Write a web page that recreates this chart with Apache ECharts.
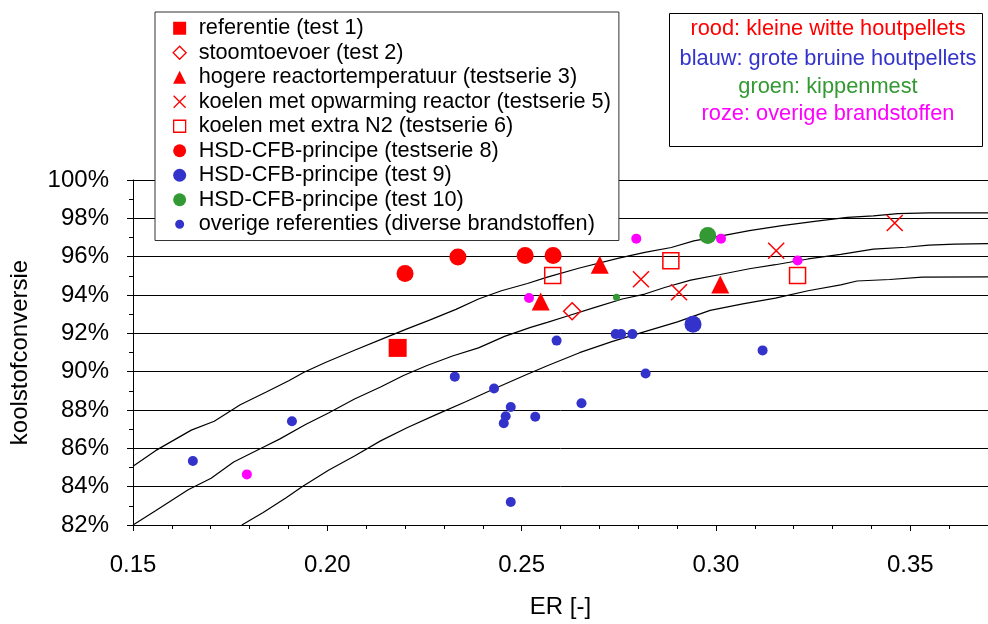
<!DOCTYPE html>
<html>
<head>
<meta charset="utf-8">
<script src="https://cdn.jsdelivr.net/npm/echarts@6/dist/echarts.min.js"></script>
<style>
html, body { margin: 0; padding: 0; background: #fff; }
#chart { width: 988px; height: 624px; }
</style>
</head>
<body>
<div id="chart"></div>
<script>
// meetpunten [ER, koolstofconversie %]
const test1 = [[0.2181, 91.24]];
const test2 = [[0.2630, 93.15]];
const testserie3 = [[0.2549, 93.66], [0.2701, 95.58], [0.3011, 94.55]];
const testserie5 = [[0.2807, 94.82], [0.2905, 94.14], [0.3155, 96.31], [0.3460, 97.76]];
const testserie6 = [[0.2580, 95.02], [0.2884, 95.79], [0.3210, 95.02]];
const testserie8 = [[0.2200, 95.12], [0.2336, 95.98], [0.2509, 96.06], [0.2581, 96.06]];
const test9 = [[0.2941, 92.47]];
const test10 = [[0.2979, 97.11]];

// overige referenties, per brandstof
const overigeBlauw = [[0.1654, 85.34], [0.1909, 87.41], [0.2328, 89.74], [0.2429, 89.12], [0.2472, 88.16],
    [0.2459, 87.67], [0.2454, 87.31], [0.2535, 87.65], [0.2654, 88.35], [0.2590, 91.62], [0.2742, 91.96],
    [0.2756, 91.96], [0.2785, 91.96], [0.2819, 89.90], [0.3120, 91.11], [0.2472, 83.20]];
const overigeRoze = [[0.1793, 84.64], [0.2519, 93.84], [0.2795, 96.94], [0.3013, 96.94], [0.3210, 95.80]];
const overigeGroen = [[0.2744, 93.88]];

// modelcurves
const curveHoog = [[0.15, 85.07], [0.1558, 85.88], [0.165, 86.95], [0.1709, 87.41], [0.1776, 88.27], [0.1843, 88.94],
    [0.1902, 89.54], [0.194, 89.97], [0.1995, 90.48], [0.207, 91.12], [0.2137, 91.67], [0.2205, 92.23], [0.2263, 92.69],
    [0.2331, 93.25], [0.2389, 93.79], [0.2448, 94.22], [0.2515, 94.6], [0.2566, 94.93], [0.2649, 95.41], [0.275, 95.92],
    [0.2817, 96.22], [0.2885, 96.48], [0.2943, 96.82], [0.3011, 97.07], [0.3086, 97.36], [0.317, 97.62], [0.3254, 97.84],
    [0.3338, 98.05], [0.3405, 98.13], [0.3468, 98.25], [0.3548, 98.28], [0.37, 98.28]];
const curveMidden = [[0.15, 82.0], [0.1558, 82.74], [0.1642, 83.84], [0.1701, 84.44], [0.1759, 85.29], [0.1835, 86.06],
    [0.1877, 86.48], [0.1944, 87.24], [0.2003, 87.84], [0.207, 88.57], [0.2137, 89.2], [0.2196, 89.8], [0.2255, 90.31],
    [0.2322, 90.82], [0.2389, 91.24], [0.2456, 91.84], [0.2523, 92.31], [0.2566, 92.57], [0.2616, 92.89], [0.2691, 93.37],
    [0.2759, 93.79], [0.2817, 94.05], [0.2868, 94.39], [0.2935, 94.78], [0.3011, 95.07], [0.3086, 95.37], [0.3153, 95.58],
    [0.3237, 95.88], [0.3321, 96.12], [0.3405, 96.39], [0.3489, 96.49], [0.3548, 96.6], [0.3615, 96.65], [0.37, 96.68]];
const curveLaag = [[0.178, 82.0], [0.1835, 82.65], [0.1894, 83.42], [0.1936, 84.01], [0.2003, 84.86], [0.207, 85.6],
    [0.2137, 86.39], [0.2205, 87.07], [0.228, 87.76], [0.2356, 88.43], [0.2431, 89.12], [0.2507, 89.8], [0.2566, 90.31],
    [0.2649, 90.99], [0.2734, 91.58], [0.2817, 92.09], [0.2901, 92.6], [0.2985, 93.2], [0.3069, 93.54], [0.3153, 93.84],
    [0.3237, 94.22], [0.3321, 94.53], [0.3363, 94.73], [0.3447, 94.81], [0.3531, 94.93], [0.37, 94.95]];

const yTicks = [82, 100, 2];      // min, max, interval
const xTicks = [0.15, 0.37, 0.05];

const ROOD = '#ff0000', BLAUW = '#3333cc', GROEN = '#339933', ROZE = '#ff00ff';
const FONT = 'Liberation Sans, Arial, sans-serif';
const KRUIS = 'path://M0,0L10,10M10,0L0,10';

// legend icons in a 28x13 box (the first two moves only fix the box)
const BOX = 'path://M0,0M28,13';
const icons = {
    vierkant: BOX + 'M7.5,0L20.5,0L20.5,13L7.5,13Z',
    ruit: BOX + 'M14,0L20.5,6.5L14,13L7.5,6.5Z',
    driehoek: BOX + 'M14,0L20.5,13L7.5,13Z',
    kruis: BOX + 'M8,0.5L20,12.5M20,0.5L8,12.5',
    open: BOX + 'M8,0.5L20,0.5L20,12.5L8,12.5Z',
    rond: BOX + 'M14,0A6.5,6.5,0,1,1,13.999,0Z',
    stip: BOX + 'M14,2A4.5,4.5,0,1,1,13.999,2Z'
};

const names = [
    'referentie (test 1)',
    'stoomtoevoer (test 2)',
    'hogere reactortemperatuur (testserie 3)',
    'koelen met opwarming reactor (testserie 5)',
    'koelen met extra N2 (testserie 6)',
    'HSD-CFB-principe (testserie 8)',
    'HSD-CFB-principe (test 9)',
    'HSD-CFB-principe (test 10)',
    'overige referenties (diverse brandstoffen)'
];

function curve(data) {
    return {
        type: 'line', data: data, showSymbol: false, silent: true, z: 1,
        lineStyle: { color: '#000', width: 1.2 }
    };
}
function scatter(name, data, symbol, size, color, hollow) {
    return {
        type: 'scatter', name: name, data: data, symbol: symbol, symbolSize: size, z: 3,
        itemStyle: hollow
            ? { color: 'transparent', borderColor: color, borderWidth: 1.5, opacity: 1 }
            : { color: color, opacity: 1 }
    };
}
function legendItem(name, icon, color, hollow) {
    return {
        name: name, icon: icon,
        itemStyle: hollow
            ? { color: 'transparent', borderColor: color, borderWidth: 1.3, opacity: 1 }
            : { color: color, borderWidth: 0, opacity: 1 }
    };
}

const overigeData = []
    .concat(overigeBlauw.map(p => ({ value: p, itemStyle: { color: BLAUW } })))
    .concat(overigeRoze.map(p => ({ value: p, itemStyle: { color: ROZE } })))
    .concat(overigeGroen.map(p => ({ value: p, symbolSize: 7, itemStyle: { color: GROEN } })));

let chartDom = document.getElementById('chart');
let myChart = echarts.init(chartDom, null, { renderer: 'canvas' });

const boxText = (text, y, color) => ({
    type: 'text', x: 159, y: y,
    style: { text: text, fill: color, font: '21.8px ' + FONT, align: 'center', verticalAlign: 'middle' }
});

let option = {
    animation: false,
    backgroundColor: '#fff',
    textStyle: { fontFamily: FONT },
    grid: { left: 127, top: 180, width: 873.4, height: 352.8 },
    xAxis: {
        type: 'value', min: xTicks[0], max: xTicks[1], interval: xTicks[2],
        name: 'ER [-]', nameLocation: 'middle', nameGap: 70,
        nameTextStyle: { fontSize: 24, color: '#000', fontFamily: FONT },
        axisLine: { lineStyle: { color: '#000', width: 1 } },
        axisTick: { length: 6, lineStyle: { color: '#000' } },
        minorTick: { show: true, splitNumber: 5, length: 4, lineStyle: { color: '#000' } },
        splitLine: { show: false },
        axisLabel: {
            fontSize: 24, color: '#000', margin: 28, fontFamily: FONT, showMaxLabel: false,
            formatter: v => v.toFixed(2)
        }
    },
    yAxis: {
        type: 'value', min: yTicks[0], max: yTicks[1], interval: yTicks[2],
        name: 'koolstofconversie', nameLocation: 'middle', nameGap: 101,
        nameTextStyle: { fontSize: 24, color: '#000', fontFamily: FONT },
        axisLine: { show: true, lineStyle: { color: '#000', width: 1 } },
        axisTick: { show: true, length: 6, lineStyle: { color: '#000' } },
        minorTick: { show: true, splitNumber: 2, length: 4, lineStyle: { color: '#000' } },
        splitLine: { show: true, lineStyle: { color: '#000', width: 1 } },
        axisLabel: { fontSize: 24, color: '#000', margin: 24, fontFamily: FONT, formatter: '{value}%' }
    },
    legend: {
        orient: 'vertical', left: 155, top: 12,
        padding: [4, 8, 4, 10],
        backgroundColor: '#fff', borderColor: '#333', borderWidth: 1,
        itemWidth: 28, itemHeight: 13, itemGap: 0,
        textStyle: { fontSize: 21.7, color: '#000', lineHeight: 24.5, fontFamily: FONT },
        data: [
            legendItem(names[0], icons.vierkant, ROOD),
            legendItem(names[1], icons.ruit, ROOD, true),
            legendItem(names[2], icons.driehoek, ROOD),
            legendItem(names[3], icons.kruis, ROOD, true),
            legendItem(names[4], icons.open, ROOD, true),
            legendItem(names[5], icons.rond, ROOD),
            legendItem(names[6], icons.rond, BLAUW),
            legendItem(names[7], icons.rond, GROEN),
            legendItem(names[8], icons.stip, BLAUW)
        ]
    },
    graphic: [{
        type: 'group', left: 669, top: 13,
        children: [
            { type: 'rect', shape: { x: 0.5, y: 0.5, width: 313, height: 133 }, style: { fill: '#fff', stroke: '#000', lineWidth: 1 } },
            boxText('rood: kleine witte houtpellets', 16.3, ROOD),
            boxText('blauw: grote bruine houtpellets', 45.7, BLAUW),
            boxText('groen: kippenmest', 73.7, GROEN),
            boxText('roze: overige brandstoffen', 101, ROZE)
        ]
    }],
    series: [
        curve(curveHoog),
        curve(curveMidden),
        curve(curveLaag),
        scatter(names[0], test1, 'rect', 18, ROOD),
        scatter(names[1], test2, 'diamond', 17, ROOD, true),
        scatter(names[2], testserie3, 'triangle', 18, ROOD),
        scatter(names[3], testserie5, KRUIS, 16, ROOD, true),
        scatter(names[4], testserie6, 'rect', 16, ROOD, true),
        scatter(names[5], testserie8, 'circle', 17, ROOD),
        scatter(names[6], test9, 'circle', 17, BLAUW),
        scatter(names[7], test10, 'circle', 17, GROEN),
        Object.assign(scatter(names[8], overigeData, 'circle', 10, BLAUW), { z: 2 })
    ]
};

myChart.setOption(option);

window.addEventListener('resize', function() {
    myChart.resize();
});
</script>
</body>
</html>
